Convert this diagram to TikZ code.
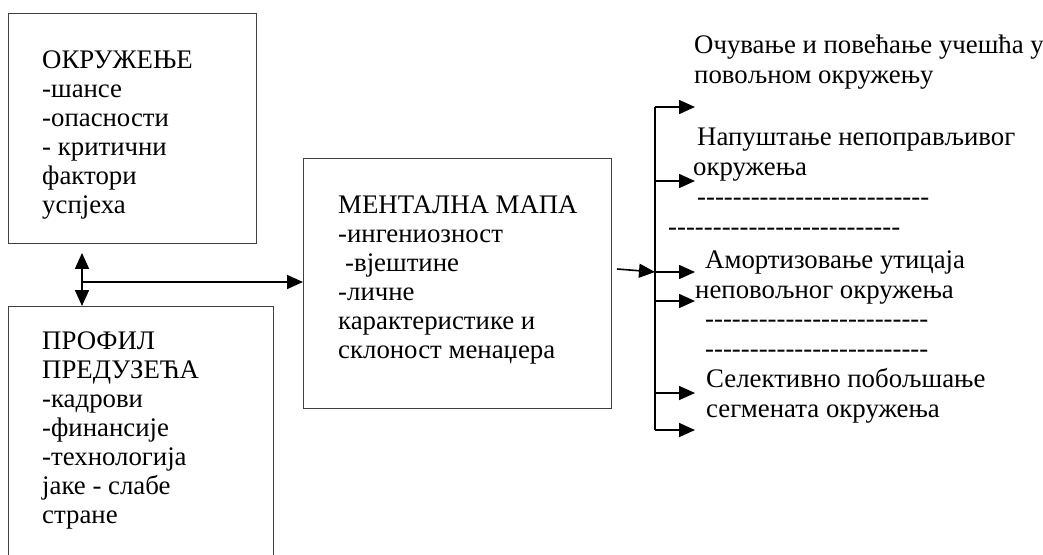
\documentclass[tikz,border=0pt]{standalone}
\usepackage{fontspec}
\setmainfont{Liberation Serif}
\usetikzlibrary{arrows.meta}
\newcommand\dashrow[1]{\foreach \k in {1,...,#1}{-{}}}

\begin{document}
\begin{tikzpicture}[x=1pt, y=-1pt, >={Triangle[length=16pt,width=14pt]},
  frame/.style={draw=black!75, line width=0.9pt, inner sep=0pt, anchor=north west},
  txt/.style={align=left, inner sep=0pt, anchor=base west,
    font=\fontsize{26.8}{29}\selectfont},
  item/.style={txt, font=\fontsize{26.8}{30}\selectfont},
  link/.style={line width=1.6pt}]

\useasboundingbox (0,0) rectangle (1043,554);
\clip (0,0) rectangle (1043,554);

% boxes
\node [frame, minimum width=248pt, minimum height=230pt] (okrBox) at (8,13) {};
\node [frame, minimum width=265pt, minimum height=270pt] (profBox) at (8,306) {};
\node [frame, minimum width=308pt, minimum height=250pt] (mapaBox) at (303,158) {};

% texts sit on the baseline of their last line
\node [txt] (okr) at (42,213)
  {ОКРУЖЕЊЕ\\-шансе\\-опасности\\- критични\\фактори\\успјеха};
\node [txt] (prof) at (42,523)
  {ПРОФИЛ\\ПРЕДУЗЕЋА\\-кадрови\\-финансије\\-технологија\\јаке - слабе\\стране};
\node [txt] (mapa) at (338,358)
  {МЕНТАЛНА МАПА\\-ингениозност\\\hspace{7pt}-вјештине\\-личне\\карактеристике и\\склоност менаџера};

% left arrows
\coordinate (join) at (82,282);
\draw [link,->] (join) -- ([yshift=-9pt]join |- okrBox.south);
\draw [link,->] (join) -- (join |- profBox.north);
\draw [link,->] (join) -- (join -| mapaBox.west);

% outcomes
\coordinate (src) at (617,269);
\coordinate (hub) at (655,272);
\draw [link,->] (src) -- (hub);

\foreach \y [count=\i] in {107,181,272,301,393,430} {
  \coordinate (bus-\i) at (655,\y);
  \coordinate (tip-\i) at (695,\y);
  \draw [link,->] (bus-\i) -- (tip-\i);
}
\draw [link] (bus-1) -- (bus-6);

\node [item] (keep) at (694,83) {Очување и повећање учешћа у\\повољном окружењу};
\node [item] (leave) at (693,175) {\hspace{4pt}Напуштање непоправљивог\\окружења};
\node [item] (dash-1) at (697,205) {\dashrow{26}};
\node [item] (dash-2) at (668,235) {\dashrow{26}};
\node [item] (absorb) at (695,298) {\hspace{10pt}Амортизовање утицаја\\неповољног окружења};
\node [item] (dash-3) at (705,327) {\dashrow{25}};
\node [item] (dash-4) at (705,357) {\dashrow{25}};
\node [item] (improve) at (706,417) {Селективно побољшање\\сегмената окружења};

\end{tikzpicture}
\end{document}
